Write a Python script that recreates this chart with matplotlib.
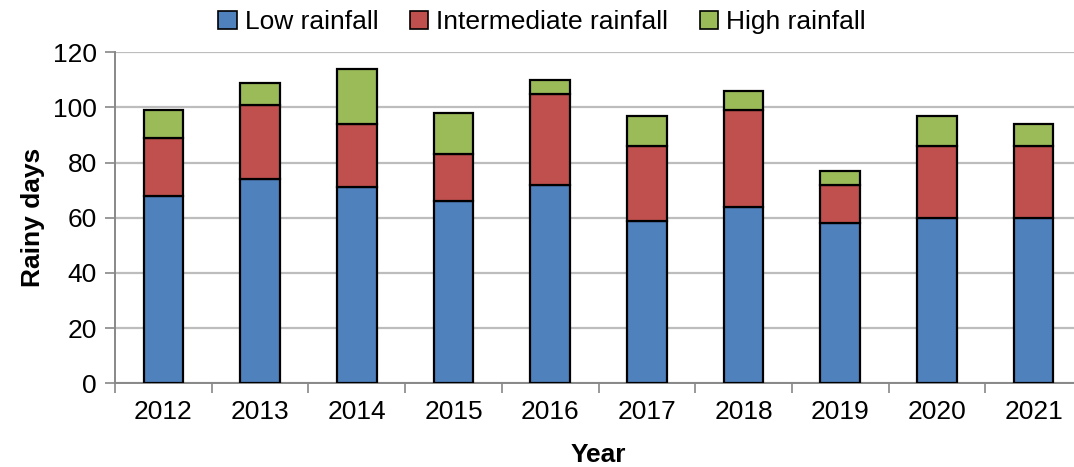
import matplotlib
matplotlib.use("Agg")
import matplotlib.pyplot as plt
from matplotlib.patches import Patch
import numpy as np

years = ["2012", "2013", "2014", "2015", "2016", "2017", "2018", "2019", "2020", "2021"]
low = [68, 74, 71, 66, 72, 59, 64, 58, 60, 60]
intermediate = [21, 27, 23, 17, 33, 27, 35, 14, 26, 26]
high = [10, 8, 20, 15, 5, 11, 7, 5, 11, 8]

series_names = ["Low rainfall", "Intermediate rainfall", "High rainfall"]
colors = ["#4F81BD", "#C0504D", "#9BBB59"]

plt.rcParams["font.family"] = ["Liberation Sans", "DejaVu Sans"]

fig = plt.figure(figsize=(10.74, 4.67), dpi=100)
ax = fig.add_axes([115 / 1074, 1 - 383.3 / 467, (1082 - 115) / 1074, (383.3 - 52.3) / 467])

x = np.arange(len(years))
w = 0.41
bottom = np.zeros(len(years))
for vals, c in zip([low, intermediate, high], colors):
    ax.bar(x, vals, w, bottom=bottom, color=c, edgecolor="black", linewidth=1.6, zorder=3)
    bottom += np.array(vals)

ax.set_xlim(-0.5, len(years) - 0.5)
ax.set_ylim(0, 120)
ax.set_yticks(range(0, 121, 20))
ax.tick_params(axis="y", labelsize=19, length=7, width=1.2, color="#888888", pad=6)
ax.yaxis.grid(True, color="#bdbdbd", linewidth=1.6, zorder=0)
ax.set_axisbelow(True)

ax.set_xticks(x)
ax.set_xticklabels(years, fontsize=19)
ax.tick_params(axis="x", length=0, pad=12)
ax.set_xticks(np.arange(-0.5, len(years), 1.0), minor=True)
ax.tick_params(axis="x", which="minor", length=7, width=1.2, color="#888888")

for s in ["top", "right"]:
    ax.spines[s].set_visible(False)
for s in ["left", "bottom"]:
    ax.spines[s].set_color("#888888")
    ax.spines[s].set_linewidth(1.4)

ax.set_ylabel("Rainy days", fontsize=19, fontweight="bold", labelpad=6)
ax.set_xlabel("Year", fontsize=19, fontweight="bold", labelpad=14)

handles = [Patch(facecolor=c, edgecolor="black", linewidth=1.2) for c in colors]
fig.legend(handles, series_names, loc="center", bbox_to_anchor=(542 / 1074, 1 - 22 / 467),
           ncol=3, frameon=False, fontsize=19, handlelength=0.7, handleheight=0.7,
           handletextpad=0.3, columnspacing=1.2)

fig.savefig("out.png", dpi=100)
